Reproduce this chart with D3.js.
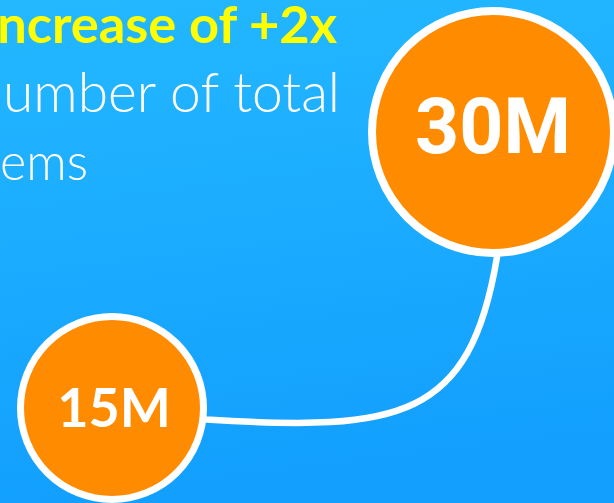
<!DOCTYPE html>
<html>
<head>
<meta charset="utf-8">
<script src="https://cdn.jsdelivr.net/npm/d3@7"></script>
<style>
  html, body { margin: 0; padding: 0; overflow: hidden; background: #1aaaff; }
  svg { display: block; }
</style>
</head>
<body>
<svg id="chart" width="614" height="503"></svg>
<script>
// Milestones: total items before and after
const labels = ["15M", "30M"];
const values = [15, 30];

// Headline and caption lines
const headline = "Increase of +2x";
const bodyLines = ["Number of total", "items"];

const W = 614, H = 503;
const svg = d3.select("#chart");

// Background gradient
const defs = svg.append("defs");
const grad = defs.append("linearGradient")
  .attr("id", "bg").attr("x1", 0).attr("y1", 0).attr("x2", 0.15).attr("y2", 1);
grad.append("stop").attr("offset", "0%").attr("stop-color", "#24b8ff");
grad.append("stop").attr("offset", "100%").attr("stop-color", "#129ffe");
svg.append("rect").attr("width", W).attr("height", H).attr("fill", "url(#bg)");

// Scales: value -> position and bubble size
const x = d3.scaleLinear().domain([15, 30]).range([112, 493]);
const y = d3.scaleLinear().domain([15, 30]).range([408, 132]);
const r = d3.scaleLinear().domain([15, 30]).range([95, 125]);

const pts = values.map((v, i) => ({ v, label: labels[i], cx: x(v), cy: y(v), R: r(v) }));

// Connector curve from the smaller bubble's right side to the larger bubble's bottom
const a = pts[0], b = pts[1];
const ang = 7 * Math.PI / 180;
const p0 = [a.cx + a.R * Math.cos(ang), a.cy + a.R * Math.sin(ang)];
const p3 = [b.cx + 4, b.cy + b.R];
const dx = p3[0] - p0[0], dy = p3[1] - p0[1];
const path = d3.path();
path.moveTo(p0[0] - 10, p0[1] - 1);
path.lineTo(p0[0], p0[1]);
path.bezierCurveTo(p0[0] + 0.667 * dx, p0[1] - 0.074 * dy,
                   p3[0] - 0.093 * dx, p3[1] - 1.0 * dy,
                   p3[0], p3[1]);
path.lineTo(p3[0] + 1, p3[1] - 10);
svg.append("path")
  .attr("d", path.toString())
  .attr("fill", "none")
  .attr("stroke", "#ffffff")
  .attr("stroke-width", 6.5)
  .attr("stroke-linecap", "round");

// Bubbles
const strokeW = [7, 8];
const g = svg.selectAll("g.bubble").data(pts).join("g").attr("class", "bubble");
g.append("circle")
  .attr("cx", d => d.cx).attr("cy", d => d.cy)
  .attr("r", (d, i) => d.R - strokeW[i] / 2)
  .attr("fill", "#ff8c00")
  .attr("stroke", "#ffffff")
  .attr("stroke-width", (d, i) => strokeW[i]);

const fonts = ["Lato", "Roboto"];
const sizes = [54, 77];
const dxs = [2, 0];
const dys = [19, 21];
g.append("text")
  .attr("x", (d, i) => d.cx + dxs[i])
  .attr("y", (d, i) => d.cy + dys[i])
  .attr("text-anchor", "middle")
  .attr("font-family", (d, i) => fonts[i])
  .attr("font-weight", 700)
  .attr("font-size", (d, i) => sizes[i])
  .attr("fill", "#ffffff")
  .text(d => d.label);

// Scale a right-anchored line so the character at index k lands at x = left
function fitLine(sel, k, left) {
  const node = sel.node();
  const n = node.getNumberOfChars();
  const right = +sel.attr("x");
  const fs = +sel.attr("font-size");
  const w = node.getSubStringLength(k, n - k);
  sel.attr("font-size", fs * (right - left) / w);
}

// Headline and caption text, right edges set, overflowing to the left
const head = svg.append("text")
  .attr("x", 337).attr("y", 43)
  .attr("text-anchor", "end")
  .attr("font-family", "Lato")
  .attr("font-weight", 700)
  .attr("font-size", 44)
  .attr("fill", "#ffff00")
  .text(headline);
fitLine(head, 1, -3);

const ends = [340, 88];
const firstVisible = [1, 2];
const lefts = [3, 0];
svg.selectAll("text.body").data(bodyLines).join("text")
  .attr("class", "body")
  .attr("x", (d, i) => ends[i])
  .attr("y", (d, i) => 112 + i * 68)
  .attr("text-anchor", "end")
  .attr("font-family", "Lato")
  .attr("font-weight", 300)
  .attr("font-size", 50)
  .attr("fill", "#ffffff")
  .text(d => d)
  .each(function (d, i) { fitLine(d3.select(this), firstVisible[i], lefts[i]); });
</script>
</body>
</html>
